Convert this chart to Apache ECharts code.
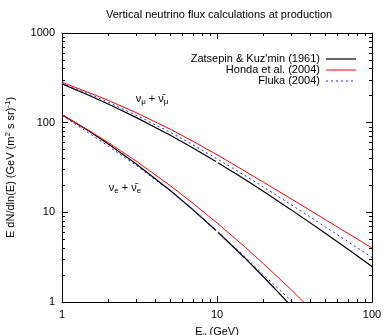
<!DOCTYPE html>
<html><head><meta charset="utf-8">
<script src="https://cdn.jsdelivr.net/npm/echarts@6/dist/echarts.min.js"></script>
<style>html,body{margin:0;padding:0;background:#fff}#c{width:391px;height:335px}</style>
</head><body><div id="c"></div>
<script>
const chartTitle = 'Vertical neutrino flux calculations at production';
const seriesNames = ["Zatsepin & Kuz'min (1961)", 'Honda et al. (2004)', 'Fluka (2004)'];
const xMajorTicks = [1, 10, 100];
const yMajorTicks = [1, 10, 100, 1000];
const xMinorTicks = [2, 3, 4, 5, 6, 7, 8, 9, 20, 30, 40, 50, 60, 70, 80, 90];
const yMinorTicks = [2, 3, 4, 5, 6, 7, 8, 9, 20, 30, 40, 50, 60, 70, 80, 90, 200, 300, 400, 500, 600, 700, 800, 900];

// nu_mu + anti-nu_mu
const muEnergyZK = [1, 1.5, 2, 3, 5, 7, 9.85, 10, 10.15, 15, 20, 30, 50, 70, 100];
const muFluxZK   = [271, 200.9, 160.5, 114.6, 72.3, 52.2, 36.9, null, 35.7, 23.5, 17.1, 10.72, 5.84, 3.87, 2.49];
const muEnergy   = [1, 1.5, 2, 3, 5, 7, 10, 15, 20, 30, 50, 70, 100];
const muFluxHonda = [282, 215.7, 176.5, 129.7, 84.5, 62.0, 43.9, 29.1, 21.6, 14.2, 8.29, 5.83, 4.0];
const muFluxFluka = [276, 207.9, 168.0, 121.5, 77.9, 56.6, 39.6, 26.0, 19.1, 12.2, 6.89, 4.71, 3.14];

// nu_e + anti-nu_e
const eEnergyZK = [1, 1.5, 2, 3, 5, 7, 9.85, 10, 10.15, 15, 20, 30, 40];
const eFluxZK   = [122.8, 80, 57.5, 34.8, 17.5, 10.7, 6.28, null, 5.99, 3.14, 1.90, 0.91, 0.52];
const eEnergy   = [1, 1.5, 2, 3, 5, 7, 10, 15, 20, 30, 40];
const eFluxHonda = [122.8, 81.4, 59.6, 37.4, 19.8, 12.6, 7.61, 4.17, 2.66, 1.38, 0.84];
const eFluxFluka = [121, 76, 54.5, 33.5, 17.3, 10.7, 6.2, 3.25, 2.0, 1.04, 0.58];

// annotation anchors (data coordinates)
const muLabelAt = [3.81, 185];
const eLabelAt = [2.55, 18.8];

const FONT = 'Liberation Sans';
const pair = (xs, ys) => xs.map((x, i) => [x, ys[i] === null ? '-' : ys[i]]);

const W = 391, H = 335;
const LEG_RIGHT = 35, LEG_TOP = 53, LEG_ROW = 11, LEG_SAMPLE = 30;

const chart = echarts.init(document.getElementById('c'), null, {renderer: 'canvas'});

const majorAxisCommon = {
  axisLine: {show: true, onZero: false, lineStyle: {color: '#000', width: 1}},
  axisTick: {show: true, inside: true, length: 6, lineStyle: {color: '#000'}},
  splitLine: {show: false},
  minorTick: {show: false}
};
const minorAxisCommon = (vals) => ({
  type: 'value',
  axisLine: {show: false, onZero: false},
  axisLabel: {show: false},
  splitLine: {show: false},
  axisTick: {show: true, inside: true, length: 3, lineStyle: {color: '#000'}, customValues: vals.map(v => Math.log10(v))}
});

const styles = [
  {color: '#000000', width: 1.2, type: 'solid'},
  {color: '#ff0000', width: 1, type: 'solid'},
  {color: '#2020ff', width: 1, type: [2, 3]}
];

function mk(name, data, st) {
  return {
    name: name, type: 'line', xAxisIndex: 0, yAxisIndex: 0,
    data: data, showSymbol: false, symbol: 'none',
    smooth: false, connectNulls: false, clip: true,
    color: st.color,
    lineStyle: {color: st.color, width: st.width, type: st.type},
    itemStyle: {color: st.color},
    emphasis: {disabled: true}
  };
}

chart.setOption({
  animation: false,
  textStyle: {fontFamily: FONT},
  title: {
    text: chartTitle, left: 106, top: 9, padding: 0,
    textStyle: {fontSize: 11, fontWeight: 'normal', color: '#000', fontFamily: FONT}
  },
  legend: {
    data: seriesNames,
    orient: 'vertical', align: 'right',
    right: LEG_RIGHT, top: LEG_TOP, padding: 0, itemGap: 0,
    itemWidth: LEG_SAMPLE, itemHeight: LEG_ROW, selectedMode: false,
    itemStyle: {opacity: 0},
    lineStyle: {opacity: 0},
    textStyle: {fontSize: 11, color: '#000', fontFamily: FONT, lineHeight: 11}
  },
  grid: {left: 62, right: 19, top: 33, bottom: 33, containLabel: false, outerBoundsMode: 'none'},
  xAxis: [
    Object.assign({}, majorAxisCommon, {
      type: 'log', logBase: 10, min: 1, max: 100, position: 'bottom',
      axisLabel: {show: true, margin: 7, fontSize: 11, color: '#000', fontFamily: FONT,
        customValues: xMajorTicks, formatter: v => String(v)},
      name: 'E{sub|ν} (GeV)', nameLocation: 'middle', nameGap: 13,
      nameTextStyle: {fontSize: 11, color: '#000', fontFamily: FONT, lineHeight: 14,
        rich: {sub: {fontSize: 8, verticalAlign: 'bottom', lineHeight: 14, padding: [4, 0, 0, 0], fontFamily: FONT, color: '#000'}}}
    }),
    Object.assign({}, majorAxisCommon, {
      type: 'log', logBase: 10, min: 1, max: 100, position: 'top',
      axisLabel: {show: false}
    }),
    Object.assign(minorAxisCommon(xMinorTicks), {min: 0, max: 2, position: 'bottom'}),
    Object.assign(minorAxisCommon(xMinorTicks), {min: 0, max: 2, position: 'top'})
  ],
  yAxis: [
    Object.assign({}, majorAxisCommon, {
      type: 'log', logBase: 10, min: 1, max: 1000, position: 'left',
      axisLabel: {show: true, margin: 7, fontSize: 11, color: '#000', fontFamily: FONT,
        customValues: yMajorTicks, formatter: v => String(v)},
      name: 'E dN/dln(E) (GeV (m{sup|2} s sr){sup|-1})', nameLocation: 'middle', nameGap: 44, nameRotate: 90,
      nameTextStyle: {fontSize: 11, color: '#000', fontFamily: FONT, lineHeight: 14,
        rich: {sup: {fontSize: 8, verticalAlign: 'top', lineHeight: 14, padding: [0, 0, 5, 0], fontFamily: FONT, color: '#000'}}}
    }),
    Object.assign({}, majorAxisCommon, {
      type: 'log', logBase: 10, min: 1, max: 1000, position: 'right',
      axisLabel: {show: false}
    }),
    Object.assign(minorAxisCommon(yMinorTicks), {min: 0, max: 3, position: 'left'}),
    Object.assign(minorAxisCommon(yMinorTicks), {min: 0, max: 3, position: 'right'})
  ],
  series: [
    mk(seriesNames[0], pair(muEnergyZK, muFluxZK), styles[0]),
    mk(seriesNames[1], pair(muEnergy, muFluxHonda), styles[1]),
    mk(seriesNames[2], pair(muEnergy, muFluxFluka), styles[2]),
    mk(seriesNames[0], pair(eEnergyZK, eFluxZK), styles[0]),
    mk(seriesNames[1], pair(eEnergy, eFluxHonda), styles[1]),
    mk(seriesNames[2], pair(eEnergy, eFluxFluka), styles[2])
  ]
});

const pMu = chart.convertToPixel({xAxisIndex: 0, yAxisIndex: 0}, muLabelAt);
const pE = chart.convertToPixel({xAxisIndex: 0, yAxisIndex: 0}, eLabelAt);
const subRich = {
  m: {fontSize: 11, fontFamily: FONT, fill: '#000', lineHeight: 14},
  s: {fontSize: 8, fontFamily: FONT, fill: '#000', verticalAlign: 'bottom', lineHeight: 14, padding: [4, 0, 0, 0]}
};
const legendSamples = styles.map((st, i) => {
  const y = Math.round(LEG_TOP + LEG_ROW * i + LEG_ROW / 2);
  return {
    type: 'line', z: 100, silent: true,
    shape: {x1: W - LEG_RIGHT - LEG_SAMPLE, y1: y, x2: W - LEG_RIGHT, y2: y},
    style: {stroke: st.color, lineWidth: st.width, lineDash: Array.isArray(st.type) ? st.type : null}
  };
});
chart.setOption({
  graphic: legendSamples.concat([
    {type: 'text', x: pMu[0], y: pMu[1], z: 100,
      style: {text: '{m|ν}{s|μ}{m| + ν\u0304}{s|μ}', rich: subRich, align: 'center', verticalAlign: 'middle', fontSize: 11, fontFamily: FONT, fill: '#000'}},
    {type: 'text', x: pE[0], y: pE[1], z: 100,
      style: {text: '{m|ν}{s|e}{m| + ν\u0304}{s|e}', rich: subRich, align: 'center', verticalAlign: 'middle', fontSize: 11, fontFamily: FONT, fill: '#000'}}
  ])
});
</script>
</body></html>
